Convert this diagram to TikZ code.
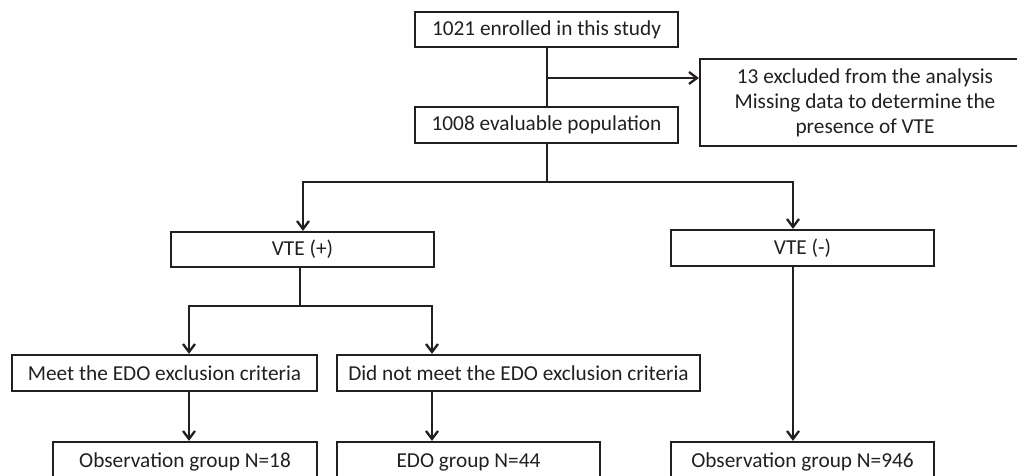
\documentclass[tikz,border=0pt]{standalone}
\usepackage{fontspec}
\setmainfont{Carlito}
\usetikzlibrary{arrows.meta}
\definecolor{ink}{HTML}{231F20}
\tikzset{
  box/.style={draw=ink, line width=2.3pt, rectangle, inner sep=0pt, align=center,
    font=\fontsize{21.3}{25}\selectfont, text=ink},
  conn/.style={draw=ink, line width=2.3pt},
  arr/.style={conn, -{Straight Barb[length=8pt, width=12pt, line width=2.3pt]}}
}
\begin{document}
\begin{tikzpicture}[x=1pt, y=-1pt]
\useasboundingbox (0,0) rectangle (1017,475);
\begin{scope}
\clip (0,0) rectangle (1017,475);
% boxes
\node[box, minimum width=263, minimum height=35] (enr) at (546.5,29.5) {1021 enrolled in this study};
\node[box, minimum width=330, minimum height=87] (excl) at (865,102.5) {13 excluded from the analysis\\Missing data to determine the\\presence of VTE};
\node[box, minimum width=263, minimum height=36] (ev) at (546.5,125) {1008 evaluable population};
\node[box, minimum width=263, minimum height=35] (vtep) at (302.5,249.5) {VTE (+)};
\node[box, minimum width=263, minimum height=36] (vten) at (802.5,248) {VTE (-)};
\node[box, minimum width=305, minimum height=36] (meet) at (164.5,373) {Meet the EDO exclusion criteria};
\node[box, minimum width=363, minimum height=36] (didnot) at (518.5,373) {Did not meet the EDO exclusion criteria};
\node[box, minimum width=264, minimum height=40] (obsA) at (185,462) {Observation group N=18};
\node[box, minimum width=263, minimum height=40] (edo) at (468.5,462) {EDO group N=44};
\node[box, minimum width=263, minimum height=40] (obsB) at (802.5,462) {Observation group N=946};
% junctions
\coordinate (j1) at (547,78);
\coordinate (j2) at (547,182);
\coordinate (jL) at (303,182);
\coordinate (jR) at (793,182);
\coordinate (j3) at (300,306);
\coordinate (kL) at (189,306);
\coordinate (kR) at (432,306);
% connectors
\draw[conn] (enr.south -| j1) -- (ev.north -| j1);
\draw[arr] (j1) -- (j1 -| excl.west);
\draw[conn] (ev.south -| j2) -- (j2);
\draw[arr] (j2) -- (jL) -- (jL |- vtep.north);
\draw[arr] (j2) -- (jR) -- (jR |- vten.north);
\draw[conn] (vtep.south -| j3) -- (j3);
\draw[arr] (j3) -- (kL) -- (kL |- meet.north);
\draw[arr] (j3) -- (kR) -- (kR |- didnot.north);
\draw[arr] (kL |- meet.south) -- (kL |- obsA.north);
\draw[arr] (kR |- didnot.south) -- (kR |- edo.north);
\draw[arr] (jR |- vten.south) -- (jR |- obsB.north);
\end{scope}
\end{tikzpicture}
\end{document}
